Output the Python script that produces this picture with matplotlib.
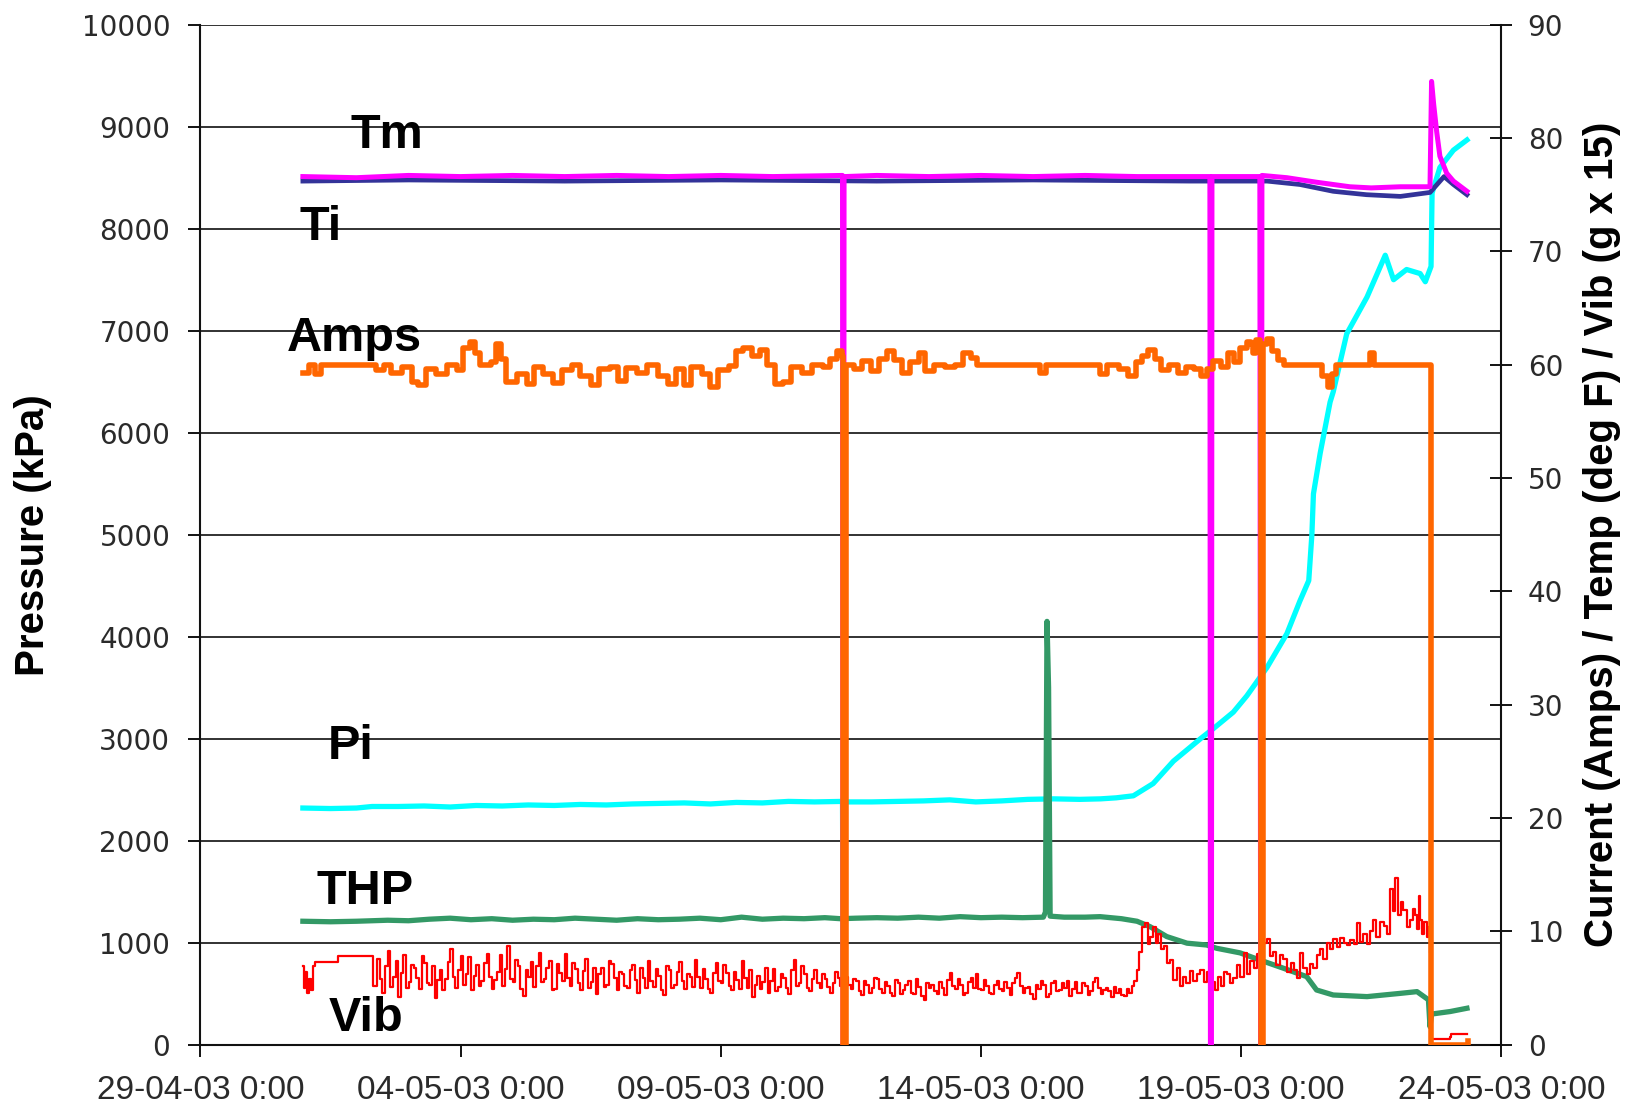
import datetime as dt
import numpy as np
import matplotlib
matplotlib.use("Agg")
import matplotlib.pyplot as plt
import matplotlib.dates as mdates
from matplotlib import font_manager
from matplotlib.ticker import FixedLocator, FuncFormatter

# all x values are days after 29-04-03 0:00
START = dt.datetime(2003, 4, 29)

# Pi - intake pressure (kPa, left axis)
pi_days = [1.97, 2.5, 3.0, 3.3, 3.8, 4.3, 4.8, 5.3, 5.8, 6.3, 6.8, 7.3, 7.8, 8.3, 8.8,
           9.3, 9.8, 10.3, 10.8, 11.3, 11.8, 12.34, 12.355, 12.37, 12.9, 13.4, 13.9,
           14.4, 14.9, 15.4, 15.9, 16.4, 16.9, 17.3, 17.6, 17.93, 18.31, 18.7, 19.22,
           19.47, 19.85, 20.11, 20.5, 20.88, 21.13, 21.3, 21.36, 21.39, 21.52, 21.71,
           21.77, 22.03, 22.42, 22.77, 22.93, 23.18, 23.44, 23.54, 23.65, 23.67, 23.82,
           24.08, 24.34]
pi_kpa = [2320, 2315, 2320, 2335, 2335, 2340, 2330, 2345, 2340, 2350, 2345, 2355, 2350,
          2360, 2365, 2370, 2360, 2375, 2370, 2385, 2380, 2385, 630, 2380, 2380, 2385,
          2390, 2400, 2380, 2390, 2405, 2410, 2405, 2410, 2420, 2440, 2560, 2780, 3000,
          3100, 3260, 3420, 3700, 4030, 4350, 4550, 5000, 5400, 5800, 6300, 6400, 6970,
          7330, 7740, 7500, 7600, 7560, 7480, 7630, 8350, 8600, 8770, 8870]

# THP - tubing head pressure (kPa, left axis)
thp_days = [1.97, 2.5, 3.0, 3.3, 3.6, 4.0, 4.4, 4.8, 5.2, 5.6, 6.0, 6.4, 6.8, 7.2, 7.6,
            8.0, 8.4, 8.8, 9.2, 9.6, 10.0, 10.4, 10.8, 11.2, 11.6, 12.0, 12.3, 12.6,
            13.0, 13.4, 13.8, 14.2, 14.6, 15.0, 15.4, 15.8, 16.2, 16.24, 16.27, 16.30,
            16.33, 16.6, 17.0, 17.29, 17.7, 18.0, 18.25, 18.57, 18.96, 19.34, 19.53,
            19.98, 20.36, 20.81, 21.26, 21.45, 21.77, 22.42, 23.06, 23.38, 23.6, 23.63,
            23.66, 24.02, 24.34]
thp_kpa = [1210, 1205, 1210, 1215, 1220, 1215, 1230, 1240, 1225, 1235, 1220, 1230, 1225,
           1240, 1230, 1220, 1235, 1225, 1230, 1240, 1225, 1250, 1230, 1240, 1235, 1245,
           1235, 1240, 1245, 1240, 1250, 1240, 1255, 1245, 1250, 1245, 1250, 1300, 4150,
           3500, 1260, 1250, 1250, 1255, 1235, 1210, 1157, 1060, 995, 977, 945, 900, 830,
           750, 667, 536, 487, 471, 503, 520, 440, 176, 300, 325, 357]

# Tm - motor temperature (deg F, right axis)
tm_days = [1.97, 3.0, 4.0, 5.0, 6.0, 7.0, 8.0, 9.0, 10.0, 11.0, 12.34, 12.35, 12.36,
           12.37, 13.0, 14.0, 15.0, 16.0, 17.0, 18.0, 19.40, 19.41, 19.43, 19.44, 20.36,
           20.375, 20.39, 20.40, 20.88, 21.45, 22.09, 22.5, 23.06, 23.63, 23.66, 23.70,
           23.76, 23.82, 23.95, 24.08, 24.34]
tm_val = [76.6, 76.5, 76.7, 76.6, 76.7, 76.6, 76.7, 76.6, 76.7, 76.6, 76.7, 0, 0, 76.6,
          76.7, 76.6, 76.7, 76.6, 76.7, 76.6, 76.6, 0, 0, 76.6, 76.6, 0, 0, 76.7, 76.5,
          76.1, 75.7, 75.6, 75.7, 75.7, 85.0, 83.0, 80.5, 78.4, 76.9, 76.2, 75.3]

# Ti - intake temperature (deg F, right axis)
ti_days = [1.97, 4.0, 7.0, 10.0, 13.0, 16.0, 19.0, 20.5, 21.13, 21.77, 22.41, 23.06,
           23.63, 23.9, 24.08, 24.34]
ti_val = [76.2, 76.3, 76.2, 76.3, 76.2, 76.3, 76.2, 76.2, 75.9, 75.3, 75.0, 74.85,
          75.2, 76.6, 75.9, 75.0]

# Amps - motor current (A, right axis)
amps_days = [1.966, 2.087, 2.207, 2.327, 3.270, 3.371, 3.531, 3.672, 3.872, 4.073, 4.173,
             4.334, 4.534, 4.735, 4.936, 5.056, 5.177, 5.277, 5.377, 5.578, 5.678, 5.778,
             5.879, 6.079, 6.280, 6.420, 6.581, 6.782, 6.942, 7.143, 7.303, 7.504, 7.664,
             7.865, 8.026, 8.186, 8.387, 8.587, 8.788, 8.989, 9.149, 9.290, 9.430, 9.631,
             9.791, 9.952, 10.152, 10.293, 10.433, 10.594, 10.754, 10.895, 11.035, 11.196,
             11.356, 11.557, 11.758, 11.958, 12.099, 12.239, 12.339, 12.35, 12.37, 12.399,
             12.560, 12.720, 12.881, 13.042, 13.202, 13.323, 13.483, 13.644, 13.804,
             13.924, 14.105, 14.306, 14.506, 14.647, 14.807, 14.928, 16.011, 16.132,
             16.252, 17.175, 17.295, 17.416, 17.656, 17.817, 17.978, 18.098, 18.218,
             18.339, 18.459, 18.620, 18.780, 18.941, 19.101, 19.222, 19.342, 19.462,
             19.623, 19.743, 19.864, 19.984, 20.104, 20.184, 20.225, 20.285, 20.365,
             20.38, 20.40, 20.425, 20.505, 20.586, 20.706, 20.827, 21.469, 21.549, 21.669,
             21.749, 21.830, 22.391, 22.472, 22.552, 23.636, 23.645, 24.358]
amps_val = [59.3, 60, 59.2, 60, 60, 59.5, 60, 59.3, 59.8, 58.5, 58.2, 59.6, 59.2, 60, 59.5,
            61.5, 62, 61, 60, 60.2, 61.8, 60.5, 58.5, 59.2, 58.3, 59.8, 59.2, 58.4, 59.5,
            60, 59, 58.2, 59.6, 59.8, 58.6, 59.7, 59.3, 60, 59, 58.3, 59.6, 58.2, 59.8,
            59.2, 58.0, 59.5, 59.9, 61.2, 61.5, 60.8, 61.3, 60, 58.3, 58.5, 59.8, 59.3, 60,
            59.8, 60.5, 61.2, 60.8, 0, 0, 60, 59.6, 60.3, 59.4, 60.5, 61.2, 60.4, 59.3,
            60.2, 61.0, 59.4, 60, 59.8, 60, 61.0, 60.6, 60, 60, 59.3, 60, 60, 59.2, 60,
            59.6, 59.0, 60.2, 60.8, 61.3, 60.5, 59.5, 60, 59.3, 59.8, 59.6, 59.0, 59.6,
            60.3, 59.8, 61.0, 60.2, 61.5, 62, 61.8, 61, 62.2, 61.5, 0, 0, 61.8, 62.3, 61.2,
            60.4, 60, 60, 59, 58, 59.2, 60, 60, 61.0, 60, 60, 0, 0.3]

# Vib - vibration (g x 15, right axis)
vib_head_days = [1.97, 1.99, 2.02, 2.05, 2.08, 2.12, 2.17, 2.20, 2.62, 2.65, 3.29, 3.31]
vib_head = [6.9, 5.0, 6.4, 4.6, 5.8, 4.8, 6.9, 7.3, 7.3, 7.8, 7.8, 5.2]
# readings at 3.40, 3.50 ... 12.30
vib_noise_a = [7.6, 4.6, 8.3, 6.0, 4.2, 7.9, 5.5, 6.8, 4.9, 7.2,
               5.3, 4.1, 6.6, 5.8, 8.4, 5.0, 7.8, 6.2, 4.8, 7.0,
               5.6, 8.0, 4.9, 6.4, 5.2, 8.7, 5.5, 6.9, 4.3, 6.0,
               5.1, 8.1, 5.8, 7.4, 4.9, 6.3, 8.0, 5.2, 6.7, 4.8,
               7.6, 5.5, 4.5, 6.8, 5.3, 7.1, 4.8, 6.2, 5.0, 7.0,
               4.6, 5.9, 7.4, 5.1, 6.1, 4.4, 6.6, 5.3, 7.3, 4.9,
               6.0, 7.5, 5.0, 5.8, 4.6, 7.2, 5.4, 6.3, 4.8, 5.7,
               7.4, 5.0, 4.2, 6.1, 5.5, 4.6, 6.7, 5.1, 5.9, 4.5,
               7.5, 5.4, 6.2, 4.7, 6.6, 5.0, 5.8, 4.6, 6.4, 5.2]
# readings at 3.45, 3.55 ... 12.25
vib_noise_a_mid = [5.8, 6.9, 5.1, 7.4, 6.3, 5.0, 7.0, 5.9, 7.8, 5.4,
                   6.9, 5.7, 4.8, 7.3, 6.0, 6.6, 5.3, 7.7, 6.1, 5.2,
                   7.2, 6.0, 5.7, 7.9, 6.7, 5.8, 7.5, 4.9, 6.6, 7.3,
                   6.9, 5.5, 6.8, 4.8, 7.1, 5.6, 5.9, 7.2, 5.4, 6.5,
                   5.0, 6.8, 6.2, 5.1, 7.4, 5.9, 6.4, 5.2, 6.6, 5.7,
                   6.8, 5.0, 5.6, 6.7, 4.8, 6.9, 5.0, 6.4, 5.6, 6.2,
                   5.1, 6.0, 6.7, 4.9, 6.3, 5.6, 7.0, 5.2, 6.4, 4.9,
                   5.9, 6.6, 5.3, 4.9, 6.8, 5.6, 4.7, 6.2, 5.0, 6.6,
                   5.2, 6.9, 5.0, 5.8, 5.4, 6.2, 5.1, 5.4, 5.9]
# shutdown at 12.36
vib_stop_days = [12.35, 12.37]
vib_stop = [0, 0]
# readings at 12.40, 12.50 ... 17.90
vib_noise_b = [6.0, 4.9, 5.6, 4.4, 5.3, 5.0, 5.8, 4.6, 5.2, 4.3,
               5.4, 4.8, 5.6, 4.5, 5.1, 3.9, 5.0, 4.7, 5.5, 4.4,
               6.3, 4.9, 5.3, 4.6, 5.9, 6.2, 4.8, 5.2, 4.5, 5.6,
               4.7, 5.0, 5.4, 6.3, 4.6, 5.1, 4.0, 4.9, 5.3, 4.5,
               5.6, 4.8, 5.0, 4.3, 5.5, 4.6, 5.2, 4.7, 5.9, 4.5,
               5.0, 4.2, 4.6, 4.4, 4.9, 5.2]
# readings at 12.45, 12.55 ... 17.95
vib_noise_b_mid = [5.3, 5.8, 4.7, 5.6, 4.6, 5.9, 4.9, 5.5, 4.6, 5.7,
                   4.5, 5.3, 4.6, 5.8, 4.3, 5.4, 5.3, 4.5, 5.0, 5.7,
                   5.2, 5.8, 4.4, 5.5, 5.0, 4.9, 5.7, 4.6, 5.3, 4.9,
                   5.5, 4.4, 5.9, 5.2, 5.0, 4.5, 5.3, 5.6, 4.2, 5.4,
                   4.7, 5.4, 5.6, 4.9, 4.6, 5.4, 4.4, 5.5, 5.0, 4.8,
                   4.7, 5.1, 4.9, 4.3, 4.6, 5.6]
vib_tail_days = [17.99, 18.04, 18.09, 18.15, 18.22, 18.25, 18.31, 18.36, 18.41, 18.46,
                 18.51, 18.58, 18.64, 18.70, 18.76, 18.82, 18.89, 18.95, 19.02, 19.08,
                 19.15, 19.21, 19.28, 19.34, 19.40, 19.45, 19.50, 19.56, 19.62, 19.68,
                 19.72, 19.78, 19.85, 19.92, 19.98, 20.05, 20.12, 20.18, 20.24, 20.30,
                 20.37, 20.38, 20.40, 20.43, 20.49, 20.55, 20.62, 20.68, 20.75, 20.81,
                 20.88, 20.95, 21.01, 21.07, 21.13, 21.19, 21.26, 21.32, 21.39, 21.45,
                 21.52, 21.58, 21.65, 21.71, 21.77, 21.84, 21.90, 21.97, 22.03, 22.10,
                 22.16, 22.22, 22.28, 22.35, 22.41, 22.47, 22.54, 22.60, 22.67, 22.74,
                 22.80, 22.86, 22.91, 22.96, 23.02, 23.07, 23.12, 23.18, 23.25, 23.30,
                 23.34, 23.38, 23.41, 23.44, 23.47, 23.52, 23.57, 23.60, 23.63, 23.645,
                 24.02, 24.03, 24.34]
vib_tail = [6.6, 8.2, 10.4, 10.7, 8.9, 9.5, 10.4, 9.0, 9.8, 8.4,
            8.7, 7.2, 7.5, 5.7, 6.8, 5.2, 6.0, 5.4, 6.5, 5.6,
            6.2, 6.6, 5.5, 6.4, 6.8, 5.5, 4.8, 6.0, 5.2, 6.4,
            6.2, 5.4, 5.9, 7.0, 6.0, 8.1, 6.2, 7.4, 6.8, 8.0,
            8.6, 0, 0, 9.0, 9.3, 7.8, 8.2, 7.0, 7.9, 7.6,
            6.4, 7.2, 6.6, 5.9, 8.1, 6.8, 6.2, 7.1, 6.8, 7.9,
            8.4, 7.6, 9.0, 8.4, 9.3, 8.6, 9.4, 9.0, 8.8, 9.2,
            8.9, 10.7, 9.1, 9.8, 8.9, 10.0, 11.0, 9.5, 10.8, 10.5,
            9.8, 13.7, 11.8, 14.7, 11.4, 12.6, 11.9, 10.4, 11.0, 12.0,
            11.4, 10.2, 13.1, 11.0, 9.8, 10.8, 9.5, 10.4, 8.1, 0.5,
            0.7, 0.9, 0.9]

x_ticks_days = [0, 5, 10, 15, 20, 25]
labels = [("Tm", 3.59, 8791), ("Ti", 2.31, 7889), ("Amps", 2.95, 6803),
          ("Pi", 2.89, 2797), ("THP", 3.17, 1383), ("Vib", 3.19, 133)]


def to_dates(days):
    return mdates.date2num(START) + np.asarray(days, dtype=float)


vib_days = np.concatenate([vib_head_days,
                           3.40 + 0.1 * np.arange(len(vib_noise_a)),
                           3.45 + 0.1 * np.arange(len(vib_noise_a_mid)),
                           vib_stop_days,
                           12.40 + 0.1 * np.arange(len(vib_noise_b)),
                           12.45 + 0.1 * np.arange(len(vib_noise_b_mid)),
                           vib_tail_days])
vib_val = np.concatenate([vib_head, vib_noise_a, vib_noise_a_mid, vib_stop,
                          vib_noise_b, vib_noise_b_mid, vib_tail])
order = np.argsort(vib_days, kind="stable")
vib_days, vib_val = vib_days[order], vib_val[order]

names = {f.name for f in font_manager.fontManager.ttflist}
narrow = "Liberation Sans Narrow" if "Liberation Sans Narrow" in names else "Liberation Sans"
xlab_size = 29 if narrow == "Liberation Sans Narrow" else 24

fig = plt.figure(figsize=(16.37, 11.13), dpi=100)
ax = fig.add_axes([0.1224, 0.0614, 0.7947, 0.9164])
ax2 = ax.twinx()

# pressures on the left axis
ax.plot(to_dates(pi_days), pi_kpa, color="#00FFFF", lw=3.8, zorder=3)
ax.plot(to_dates(thp_days), thp_kpa, color="#339966", lw=3.8, zorder=3)

# current / temperature / vibration on the right axis (logged values held between samples)
ax2.plot(to_dates(vib_days), vib_val, color="#FF0000", lw=1.6, zorder=3,
         drawstyle="steps-post")
ax2.plot(to_dates(ti_days), ti_val, color="#333399", lw=3.4, zorder=4)
ax2.plot(to_dates(tm_days), tm_val, color="#FF00FF", lw=3.6, zorder=5)
ax2.plot(to_dates(amps_days), amps_val, color="#FF6600", lw=4.0, zorder=6,
         drawstyle="steps-post")

x0 = mdates.date2num(START)
ax.set_xlim(x0, x0 + 25)
ax.set_ylim(0, 10000)
ax2.set_ylim(0, 90)

ax.xaxis.set_major_locator(FixedLocator(to_dates(x_ticks_days)))


def fmt_date(v, pos):
    d = mdates.num2date(v)
    return f"{d:%d-%m-%y} {d.hour}:{d:%M}"


ax.xaxis.set_major_formatter(FuncFormatter(fmt_date))
ax.set_yticks(np.arange(0, 10001, 1000))
ax2.set_yticks(np.arange(0, 91, 10))

ax.grid(axis="y", color="#222222", lw=1.3)
ax.set_axisbelow(True)

tick_col = "#2a2a2a"
ax.tick_params(axis="y", direction="out", length=8.6, width=1.3, pad=13,
               labelsize=20, labelcolor=tick_col)
ax.tick_params(axis="x", direction="out", length=8.6, width=1.3, pad=13,
               labelcolor=tick_col)
for t in ax.get_xticklabels():
    t.set_fontfamily(narrow)
    t.set_fontsize(xlab_size)
ax2.tick_params(axis="y", direction="inout", length=16, width=1.3, pad=11,
                labelsize=20, labelcolor=tick_col)

for s in ["top", "right"]:
    ax.spines[s].set_visible(False)
for s in ["top", "left", "bottom"]:
    ax2.spines[s].set_visible(False)
for sp in [ax.spines["left"], ax.spines["bottom"], ax2.spines["right"]]:
    sp.set_linewidth(1.5)
    sp.set_color("#111111")

ax.set_ylabel("Pressure (kPa)", fontsize=29, fontweight="bold", family="Liberation Sans")
ax.yaxis.set_label_coords(-0.114, 0.5)
ax2.set_ylabel("Current (Amps) / Temp (deg F) / Vib (g x 15)", fontsize=29,
               fontweight="bold", family="Liberation Sans", rotation=90)
ax2.yaxis.set_label_coords(1.063, 0.5)

for txt, d, y in labels:
    ax2.text(x0 + d, y * 0.009, txt, fontsize=35, fontweight="bold",
             family="Liberation Sans", ha="center", va="baseline", zorder=10)

fig.savefig("out.png", dpi=100)
